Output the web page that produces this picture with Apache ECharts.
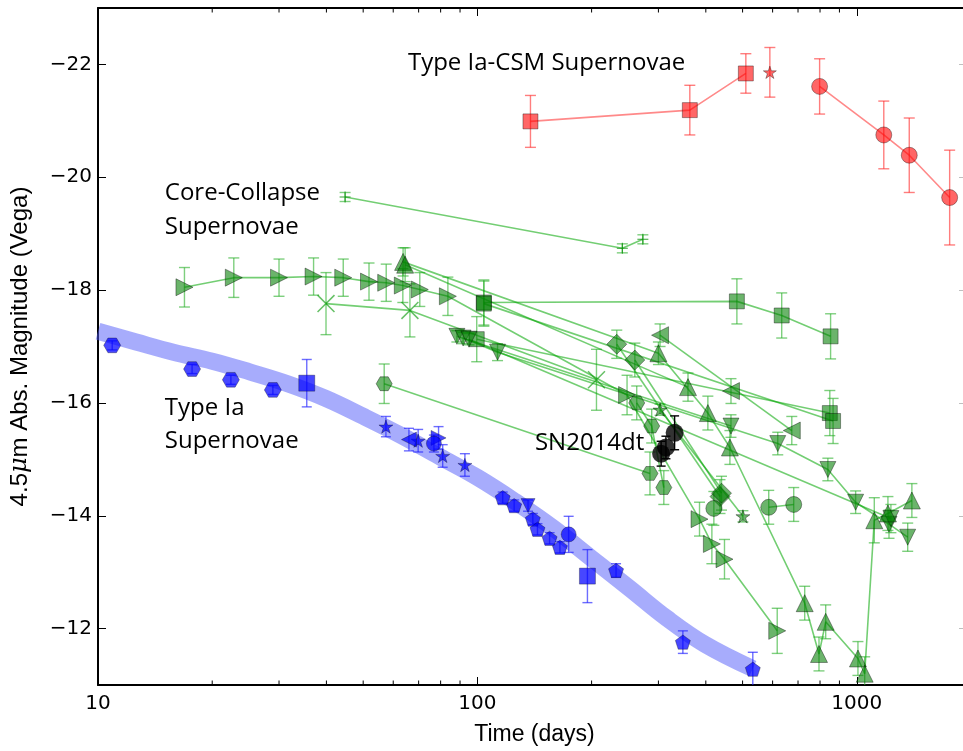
<!DOCTYPE html>
<html><head><meta charset="utf-8">
<script src="https://cdn.jsdelivr.net/npm/echarts@6/dist/echarts.min.js"></script>
<style>html,body{margin:0;padding:0;background:#fff;overflow:hidden;width:963px;height:751px}#c{width:980px;height:751px}</style>
</head><body><div id="c"></div>
<script>
// ---- axes ----
const X_MIN = 10, X_MAX = 2000, Y_TOP = -23, Y_BOTTOM = -11;
const xMajorLabels = [10, 100, 1000];
const xMinorTicks = [20,30,40,50,60,70,80,90,200,300,400,500,600,700,800,900,2000];
const yTickLabels = [-22,-20,-18,-16,-14,-12];

// ---- Type Ia (blue): [days, mag, err] ----
const iaBand = [[10,-17.27],[12.6,-17.08],[15.8,-16.9],[20,-16.74],[25.1,-16.55],[31.6,-16.34],[39.8,-16.08],[50.1,-15.76],[63.1,-15.42],[79.4,-15.05],[100,-14.68],[125.9,-14.25],[158.5,-13.78],[199.5,-13.25],[251.2,-12.72],[316.2,-12.18],[398.1,-11.72],[532,-11.29]];
const iaHex = [[10.9,-17.02,0.08],[17.7,-16.6,0.08],[22.4,-16.41,0.08],[28.9,-16.23,0.08]];
const iaSquare = [[35.5,-16.35,0.42],[195,-12.93,0.47]];
const iaStar = [[57.4,-15.58,0.18],[69.8,-15.33,0.2],[81,-15.06,0.2],[92.7,-14.9,0.2]];
const iaLeftTri = [[66,-15.35,0.2]];
const iaRightTri = [[79,-15.38,0.2]];
const iaCircle = [[76.8,-15.28,0.15],[174,-13.67,0.32]];
const iaPent = [[116.6,-14.32,0.1],[125,-14.18,0.1],[140,-13.94,0.1],[144,-13.76,0.1],[155,-13.6,0.1],[165,-13.44,0.1],[232,-13.03,0.12],[348,-11.76,0.2],[532,-11.28,0.3]];
const iaDownTri = [[136,-14.18,0.1]];

// ---- Core-collapse (green): [days, mag, err] ----
const gPlus = [[44.8,-19.65,0.08],[241,-18.74,0.08],[273,-18.9,0.08]];
const gRight = [[16.9,-18.05,0.35],[22.8,-18.22,0.35],[30,-18.22,0.33],[37,-18.24,0.33],[44.3,-18.22,0.33],[51.8,-18.15,0.33],[57.5,-18.13,0.33],[63.6,-18.08,0.3],[70.5,-18.01,0.3],[83.6,-17.89,0.34],[248,-16.14,0.35],[385,-13.94,0.3],[415,-13.5,0.35],[448,-13.23,0.35],[617,-11.96,0.4]];
const gX = [[39.9,-17.76,0.55],[66.4,-17.64,0.47],[206,-16.41,0.54]];
const gSqA = [[104,-17.78,0.4],[483,-17.8,0.4],[634,-17.55,0.4],[853,-17.18,0.4]];
const gSqB = [[99.6,-17.13,0.4],[849,-15.82,0.4]];
const gSqC = [[104,-17.76,0.4],[866,-15.68,0.4]];
const gDownA = [[88.3,-17.18,0.1],[466,-15.59,0.2]];
const gDownB = [[91.7,-17.15,0.1],[113,-16.9,0.15],[619,-15.28,0.2],[839,-14.82,0.2],[993,-14.24,0.2],[1216,-13.85,0.25],[1362,-13.62,0.25]];
const gDownC = [[95,-17.13,0.1],[1230,-13.95,0.25]];
const gUpA = [[63.7,-18.5,0.25],[300,-16.88,0.2],[405,-15.82,0.3],[463,-15.21,0.3],[729,-12.45,0.3],[795,-11.55,0.3],[828,-12.12,0.3],[1007,-11.47,0.3],[1049,-11.2,0.3],[1112,-13.92,0.4],[1208,-14.04,0.3],[1397,-14.27,0.3]];
const gUpB = [[64.5,-18.45,0.3],[359,-16.28,0.25]];
const gDiaA = [[233,-17.04,0.25],[436,-14.34,0.3]];
const gDiaB = [[260,-16.76,0.3],[440,-14.4,0.3]];
const gLeftA = [[303,-17.2,0.2],[674,-15.51,0.25]];
const gLeftB = [[466,-16.21,0.22]];
const gStar = [[303,-15.88,0.1],[501,-13.99,0.1]];
const gHexA = [[56.8,-16.34,0.35],[285,-14.75,0.38]];
const gHexB = [[263,-16.0,0.3],[288,-15.59,0.3],[310,-14.5,0.3]];
const gCircA = [[420,-14.13,0.3]];
const gCircB = [[586,-14.15,0.3],[682,-14.2,0.3]];

// ---- Type Ia-CSM (red) ----
const redSq = [[138,-20.99,0.46],[363,-21.19,0.44],[510,-21.84,0.35]];
const redStar = [[590,-21.86,0.44]];
const redCirc = [[798,-21.61,0.49],[1178,-20.75,0.6],[1375,-20.39,0.66],[1757,-19.64,0.84]];

// ---- SN2014dt (black) ----
const sn2014dt = [[305,-15.1,0.22],[314,-15.21,0.2],[331,-15.47,0.3]];

// ---- text annotations: [days, mag, text] ----
const annotations = [
  [65.6,-22.03,'Type Ia-CSM Supernovae'],
  [15.0,-19.72,'Core-Collapse'],
  [15.0,-19.12,'Supernovae'],
  [15.0,-15.91,'Type Ia'],
  [15.0,-15.33,'Supernovae'],
  [141.8,-15.29,'SN2014dt']
];

const SYM = {
  square:'rect', circle:'circle', tri:'triangle', diamond:'diamond',
  hex:'path://M-1,0L-0.5,-0.866L0.5,-0.866L1,0L0.5,0.866L-0.5,0.866Z',
  pent:'path://M0,-1L0.951,-0.309L0.588,0.809L-0.588,0.809L-0.951,-0.309Z',
  star:'path://M0,-1L0.2245,-0.309L0.951,-0.309L0.363,0.118L0.588,0.809L0,0.382L-0.588,0.809L-0.363,0.118L-0.951,-0.309L-0.2245,-0.309Z',
  x:'path://M-1,-0.88L-0.88,-1L1,0.88L0.88,1Z M0.88,-1L1,-0.88L-0.88,1L-1,0.88Z',
  plus:'path://M-0.09,-1L0.09,-1L0.09,1L-0.09,1Z M-1,-0.09L1,-0.09L1,0.09L-1,0.09Z'
};

const G_FILL='rgba(0,125,0,0.58)', G_EDGE='rgba(0,0,0,0.38)', G_LINE='rgba(0,165,0,0.55)', G_ERR='rgba(40,175,40,0.6)';
const R_FILL='rgba(255,0,0,0.6)', R_EDGE='rgba(0,0,0,0.35)', R_LINE='rgba(255,40,40,0.55)', R_ERR='rgba(255,40,40,0.6)';
const B_FILL='rgba(0,0,255,0.72)', B_EDGE='rgba(0,0,0,0.3)', B_ERR='rgba(30,30,255,0.65)';

function errBars(data, color, cap, z){
  return {type:'custom', coordinateSystem:'cartesian2d', z:z||2, silent:true, clip:true,
    data:data.map(p=>[p[0],p[1],p[2]]), encode:{x:0,y:1},
    renderItem:(params, api)=>{
      const x=api.value(0), y=api.value(1), e=api.value(2);
      if(!e) return null;
      const a=api.coord([x,y-e]), b=api.coord([x,y+e]);
      const st={stroke:color, lineWidth:1.4};
      return {type:'group', children:[
        {type:'line', shape:{x1:a[0],y1:a[1],x2:b[0],y2:b[1]}, style:st},
        {type:'line', shape:{x1:a[0]-cap,y1:a[1],x2:a[0]+cap,y2:a[1]}, style:st},
        {type:'line', shape:{x1:b[0]-cap,y1:b[1],x2:b[0]+cap,y2:b[1]}, style:st}
      ]};
    }};
}
function lineSer(data, sym, size, rot, fill, edge, lineColor, connect, z){
  const s = {type: connect ? 'line' : 'scatter', data:data.map(p=>[p[0],p[1]]),
    symbol:SYM[sym], symbolSize:size, symbolRotate:rot||0, symbolKeepAspect:true,
    itemStyle:{color:fill, borderColor:edge, borderWidth:(sym==='x'||sym==='plus')?0:1, opacity:1},
    z:z||3, silent:true, emphasis:{disabled:true}};
  if(connect){ s.showSymbol=true; s.showAllSymbol=true; s.lineStyle={color:lineColor, width:1.6}; }
  return s;
}

const series = [];
// band
series.push({type:'line', data:iaBand, smooth:0.4, symbol:'none', silent:true, z:1,
  lineStyle:{color:'rgba(80,90,250,0.5)', width:17, cap:'butt', join:'round'}});

// green
const greens = [
  [gPlus,'plus',11,0,'rgba(0,140,0,0.8)'],
  [gRight,'tri',17,-90],
  [gX,'x',18,0,'rgba(0,150,0,0.6)'],
  [gSqA,'square',15,0],[gSqB,'square',15,0],[gSqC,'square',15,0],
  [gDownA,'tri',16,180],[gDownB,'tri',16,180],[gDownC,'tri',16,180],
  [gUpA,'tri',17,0],[gUpB,'tri',17,0],
  [gDiaA,'diamond',20,0],[gDiaB,'diamond',20,0],
  [gLeftA,'tri',17,90],[gLeftB,'tri',17,90],
  [gStar,'star',14,0],
  [gHexA,'hex',16,0],[gHexB,'hex',16,0],
  [gCircA,'circle',16,0],[gCircB,'circle',16,0]
];
greens.forEach(g=>series.push(errBars(g[0], G_ERR, 5.5, 2)));
greens.forEach(g=>series.push(lineSer(g[0], g[1], g[2], g[3], g[4]||G_FILL, G_EDGE, G_LINE, g[0].length>1, 3)));

// red
[[redSq,'square',15],[redStar,'star',13],[redCirc,'circle',16]].forEach(r=>{
  series.push(errBars(r[0], R_ERR, 5.5, 2));
  series.push(lineSer(r[0], r[1], r[2], 0, R_FILL, R_EDGE, R_LINE, r[0].length>1 && r[1]!=='star', 3));
});

// blue
const blues = [[iaHex,'hex',17,0],[iaSquare,'square',16,0],[iaStar,'star',14,0],[iaLeftTri,'tri',15,90],
  [iaRightTri,'tri',15,-90],[iaCircle,'circle',15,0],[iaPent,'pent',15,0],[iaDownTri,'tri',14,180]];
blues.forEach(b=>{
  series.push(errBars(b[0], B_ERR, 5, 4));
  series.push(lineSer(b[0], b[1], b[2], b[3], B_FILL, B_EDGE, null, false, 4));
});

// SN2014dt
series.push(errBars(sn2014dt, '#000', 4.5, 6));
series.push({type:'scatter', data:sn2014dt.map(p=>[p[0],p[1]]), symbol:'circle', symbolSize:18,
  itemStyle:{color:'#000'}, z:6, silent:true});

// minor x ticks (bottom and top)
series.push({type:'custom', coordinateSystem:'cartesian2d', silent:true, clip:false, z:10,
  data:xMinorTicks.map(t=>[t, Y_BOTTOM]), encode:{x:0,y:1},
  renderItem:(params, api)=>{
    const t=api.value(0);
    const b=api.coord([t,Y_BOTTOM]), tp=api.coord([t,Y_TOP]);
    const st={stroke:'#000', lineWidth:1};
    return {type:'group', children:[
      {type:'line', shape:{x1:b[0],y1:b[1],x2:b[0],y2:b[1]-4.5}, style:st},
      {type:'line', shape:{x1:tp[0],y1:tp[1],x2:tp[0],y2:tp[1]+4.5}, style:st}
    ]};
  }});

// annotations
series.push({type:'custom', coordinateSystem:'cartesian2d', silent:true, clip:false, z:12,
  data:annotations.map(a=>[a[0],a[1]]), encode:{x:0,y:1},
  renderItem:(params, api)=>{
    const p=api.coord([api.value(0), api.value(1)]);
    return {type:'text', x:p[0], y:p[1], style:{text:annotations[params.dataIndex][2], fill:'#000',
      fontSize:24, fontFamily:'"Open Sans", sans-serif', align:'left', verticalAlign:'middle',
      textAlign:'left', textVerticalAlign:'middle'}};
  }});

const isMajor = v => xMajorLabels.some(m => Math.abs(v-m) < 1e-6*m);
const axisLineStyle = {color:'#000', width:2};

const option = {
  animation:false,
  backgroundColor:'#fff',
  grid:{left:98, top:8, width:873, height:680, containLabel:false},
  xAxis:[
    {type:'log', logBase:10, min:X_MIN, max:X_MAX, position:'bottom',
     axisLine:{show:true, onZero:false, lineStyle:axisLineStyle},
     axisTick:{show:true, inside:true, length:8, lineStyle:{color:'#000', width:1}},
     axisLabel:{formatter:v=>isMajor(v)?String(Math.round(v)):'', fontSize:20, color:'#000', fontFamily:'"DejaVu Sans", sans-serif', margin:9},
     splitLine:{show:false}, minorTick:{show:false},
     name:'Time (days)', nameLocation:'middle', nameGap:38,
     nameTextStyle:{fontSize:23, color:'#000', fontFamily:'"Liberation Sans", Arial, sans-serif'}},
    {type:'log', logBase:10, min:X_MIN, max:X_MAX, position:'top',
     axisLine:{show:true, onZero:false, lineStyle:axisLineStyle},
     axisTick:{show:true, inside:true, length:8, lineStyle:{color:'#000', width:1}},
     axisLabel:{show:false}, splitLine:{show:false}}
  ],
  yAxis:[
    {type:'value', inverse:true, min:Y_TOP, max:Y_BOTTOM, splitNumber:6, position:'left',
     axisLine:{show:true, onZero:false, lineStyle:axisLineStyle},
     axisTick:{show:true, inside:true, length:8, lineStyle:{color:'#000', width:1}},
     axisLabel:{formatter:v=>yTickLabels.includes(Math.round(v))?'\u2212'+Math.abs(Math.round(v)):'', fontSize:20, color:'#000', fontFamily:'"DejaVu Sans", sans-serif', margin:6},
     splitLine:{show:false},
     name:'4.5{i|μ}m Abs. Magnitude (Vega)', nameLocation:'middle', nameGap:66, nameRotate:90,
     nameTextStyle:{fontSize:24, color:'#000', fontFamily:'"Liberation Sans", Arial, sans-serif',
       rich:{i:{fontStyle:'italic', fontSize:24, fontFamily:'"DejaVu Serif", serif', color:'#000'}}}},
    {type:'value', inverse:true, min:Y_TOP, max:Y_BOTTOM, splitNumber:6, position:'right',
     axisLine:{show:true, onZero:false, lineStyle:axisLineStyle},
     axisTick:{show:true, inside:true, length:12, lineStyle:{color:'rgba(0,0,0,0.25)', width:1}},
     axisLabel:{show:false}, splitLine:{show:false}}
  ],
  series: series
};
const chart = echarts.init(document.getElementById('c'), null, {renderer:'canvas', width:980, height:751});
chart.setOption(option);
</script></body></html>
